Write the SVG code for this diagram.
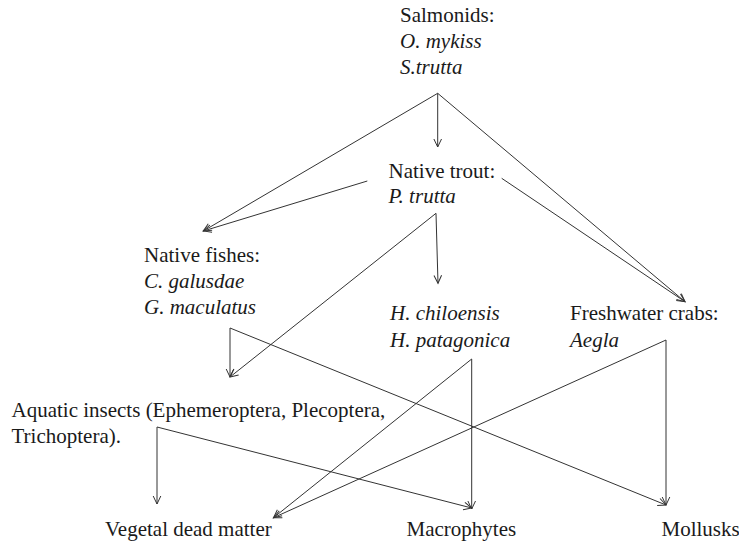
<svg xmlns="http://www.w3.org/2000/svg" width="739" height="545" viewBox="0 0 739 545">
<style>
text{font-family:"Liberation Serif","Times New Roman",serif;font-size:21px;fill:#1a1a1a}
.i{font-style:italic}
.c line{stroke:#333;stroke-width:1;fill:none;marker-end:url(#arr)}
</style>
<defs>
<marker id="arr" viewBox="-10 -5 12 10" refX="0" refY="0" markerWidth="12" markerHeight="10" markerUnits="userSpaceOnUse" orient="auto">
<path d="M-8,-3.8 L0,0 L-8,3.8" fill="none" stroke="#333" stroke-width="1"/>
</marker>
</defs>
<rect width="739" height="545" fill="#fff"/>
<g id="salmonids"><text x="400" y="22">Salmonids:</text><text class="i" x="400" y="48">O. mykiss</text><text class="i" x="400" y="74">S.trutta</text></g>
<g id="native-trout"><text x="388.5" y="177.5">Native trout:</text><text class="i" x="388.5" y="203">P. trutta</text></g>
<g id="native-fishes"><text x="144" y="262">Native fishes:</text><text class="i" x="144" y="288">C. galusdae</text><text class="i" x="144" y="314">G. maculatus</text></g>
<g id="hyalella"><text class="i" x="390" y="320">H. chiloensis</text><text class="i" x="390" y="346.5">H. patagonica</text></g>
<g id="crabs"><text x="570" y="320">Freshwater crabs:</text><text class="i" x="570" y="346.5">Aegla</text></g>
<g id="aquatic-insects"><text x="11.5" y="417">Aquatic insects (Ephemeroptera, Plecoptera,</text><text x="11.5" y="443">Trichoptera).</text></g>
<g id="vegetal"><text x="105" y="535.5">Vegetal dead matter</text></g>
<g id="macrophytes"><text x="406.5" y="535.5">Macrophytes</text></g>
<g id="mollusks"><text x="661.5" y="535.5">Mollusks</text></g>
<g class="c" id="connectors">
<line x1="437.7" y1="93.3" x2="437.7" y2="147"/>
<line x1="437.7" y1="93.3" x2="203.3" y2="231"/>
<line x1="437.7" y1="93.3" x2="685" y2="301.7"/>
<line x1="367.3" y1="181" x2="203.3" y2="231"/>
<line x1="501.7" y1="178.3" x2="685" y2="301.7"/>
<line x1="436" y1="213.3" x2="438" y2="283.3"/>
<line x1="436" y1="213.3" x2="230" y2="377"/>
<line x1="230" y1="328" x2="230" y2="377"/>
<line x1="230" y1="328" x2="666" y2="505"/>
<line x1="471.7" y1="359" x2="273.5" y2="517.7"/>
<line x1="471.7" y1="359" x2="471.7" y2="509"/>
<line x1="666" y1="340" x2="273.5" y2="517.7"/>
<line x1="666" y1="340" x2="666" y2="505"/>
<line x1="157" y1="427" x2="157" y2="504"/>
<line x1="157" y1="427" x2="471.7" y2="508"/>
</g>
</svg>
